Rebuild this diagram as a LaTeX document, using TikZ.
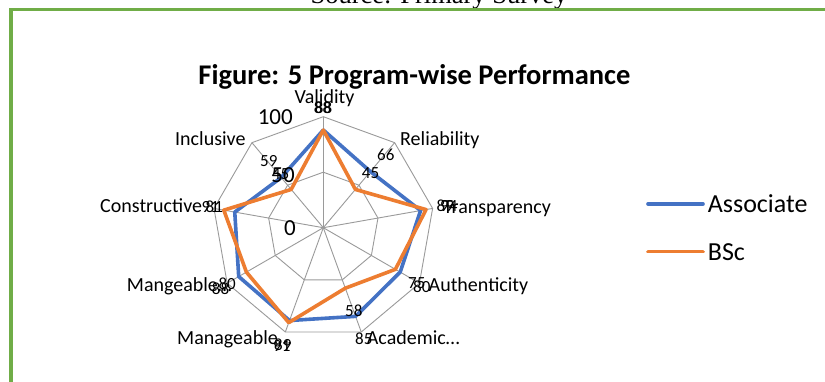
\documentclass[tikz,border=0pt]{standalone}
\usepackage{fontspec}
\setmainfont{Carlito}
\newfontfamily\srcfont{Liberation Serif}
\definecolor{assoc}{HTML}{4472C4}
\definecolor{bsc}{HTML}{ED7D31}
\definecolor{frame}{HTML}{70AD47}
\definecolor{gridc}{HTML}{9A9A9A}
\tikzset{
  gridline/.style={draw=gridc, line width=0.9pt},
  assocline/.style={draw=assoc, line width=3.6pt, line join=round, line cap=round},
  bscline/.style={draw=bsc, line width=3.6pt, line join=round, line cap=round},
  axislab/.style={inner sep=0pt, font=\fontsize{20}{20}\selectfont},
  datalab/.style={inner sep=0pt, font=\fontsize{17}{17}\selectfont},
  scalelab/.style={inner sep=0pt, font=\fontsize{23}{23}\selectfont},
  leglab/.style={inner sep=0pt, font=\fontsize{26}{26}\selectfont},
}
\begin{document}
\begin{tikzpicture}[x=1pt, y=-1pt]
\useasboundingbox (0,0) rectangle (825,382);
\fill[white] (0,0) rectangle (825,382);
% source line, cut by the page top
\node[inner sep=0pt, anchor=base, font=\srcfont\fontsize{26.5}{26.5}\selectfont] (src) at (439,3.3) {Source: Primary Survey};
% frame
\draw[frame, line width=3.5pt] (830,9.5) -- (10.8,9.5) -- (10.8,395);
% title
\node[inner sep=0pt, anchor=base, font=\bfseries\fontsize{28.5}{28.5}\selectfont] (title) at (414.5,85) {Figure: 5 Program-wise Performance};
% radar geometry
\def\cx{323.3}\def\cy{227.7}\def\sc{1.11}
\coordinate (c) at (\cx,\cy);
\foreach \i in {0,...,8}{
  \coordinate (g\i) at ({\cx+111*cos(90-40*\i)},{\cy-111*sin(90-40*\i)});
  \coordinate (h\i) at ({\cx+55.5*cos(90-40*\i)},{\cy-55.5*sin(90-40*\i)});
}
\foreach \i in {0,...,8}{ \draw[gridline] (c) -- (g\i); }
\draw[gridline] (g0)--(g1)--(g2)--(g3)--(g4)--(g5)--(g6)--(g7)--(g8)--cycle;
\draw[gridline] (h0)--(h1)--(h2)--(h3)--(h4)--(h5)--(h6)--(h7)--(h8)--cycle;
\foreach \v [count=\i from 0] in {88,66,89,80,85,89,88,81,59}{
  \coordinate (b\i) at ({\cx+\sc*\v*cos(90-40*\i)},{\cy-\sc*\v*sin(90-40*\i)});
}
\foreach \v [count=\i from 0] in {88,45,94,75,58,91,80,91,45}{
  \coordinate (o\i) at ({\cx+\sc*\v*cos(90-40*\i)},{\cy-\sc*\v*sin(90-40*\i)});
}
\draw[assocline] (b0)--(b1)--(b2)--(b3)--(b4)--(b5)--(b6)--(b7)--(b8)--cycle;
\draw[bscline] (o0)--(o1)--(o2)--(o3)--(o4)--(o5)--(o6)--(o7)--(o8)--cycle;
% scale labels
\node[scalelab, anchor=base east] (s100) at (293,125) {100};
\node[scalelab, anchor=base east] (s50) at (295,183) {50};
\node[scalelab, anchor=base east] (s0) at (296,236) {0};
% axis labels
\node[axislab, anchor=base] (lval) at (324.5,104) {Validity};
\node[axislab, anchor=base west] (lrel) at (400,145.5) {Reliability};
\node[axislab, anchor=base west] (ltra) at (443,214) {Transparency};
\node[axislab, anchor=base west] (laut) at (428.5,291.2) {Authenticity};
\node[axislab, anchor=base west] (laca) at (366.7,344.6) {Academic…};
\node[axislab, anchor=base west] (lman) at (177,344) {Manageable…};
\node[axislab, anchor=base west] (lmng) at (126.7,291) {Mangeable…};
\node[axislab, anchor=base west] (lcon) at (100,213) {Constructive};
\node[axislab, anchor=base west] (linc) at (175,145.6) {Inclusive};
% data labels
\node[datalab, anchor=base] (d0a) at (322.5,114) {88};
\node[datalab, anchor=base] (d0b) at (323.5,113.5) {88};
\node[datalab, anchor=base west] (d1a) at (377,161) {66};
\node[datalab, anchor=base west] (d1b) at (361.7,179) {45};
\node[datalab, anchor=base west] (d2a) at (436.5,211.5) {89};
\node[datalab, anchor=base west] (d2b) at (440,211.5) {94};
\node[datalab, anchor=base west] (d3a) at (413,292) {80};
\node[datalab, anchor=base west] (d3b) at (408,288.5) {75};
\node[datalab, anchor=base west] (d4a) at (355,344.5) {85};
\node[datalab, anchor=base west] (d4b) at (345,316.5) {58};
\node[datalab, anchor=base west] (d5a) at (274,350.5) {89};
\node[datalab, anchor=base west] (d5b) at (273,351.5) {91};
\node[datalab, anchor=base west] (d6a) at (211.7,294.5) {88};
\node[datalab, anchor=base west] (d6b) at (218.3,289.5) {80};
\node[datalab, anchor=base west] (d7a) at (205.5,213) {81};
\node[datalab, anchor=base west] (d7b) at (201.5,213) {91};
\node[datalab, anchor=base west] (d8a) at (260,166.5) {59};
\node[datalab, anchor=base west] (d8b) at (271.7,180) {45};
% legend
\coordinate (la1) at (648,204);
\coordinate (la2) at (703,204);
\coordinate (lb1) at (648,251.7);
\coordinate (lb2) at (703,251.7);
\draw[assocline] (la1) -- (la2);
\draw[bscline] (lb1) -- (lb2);
\node[leglab, anchor=west] (legA) at (707.7,204) {Associate};
\node[leglab, anchor=west] (legB) at (707.7,251.7) {BSc};
\end{tikzpicture}
\end{document}
